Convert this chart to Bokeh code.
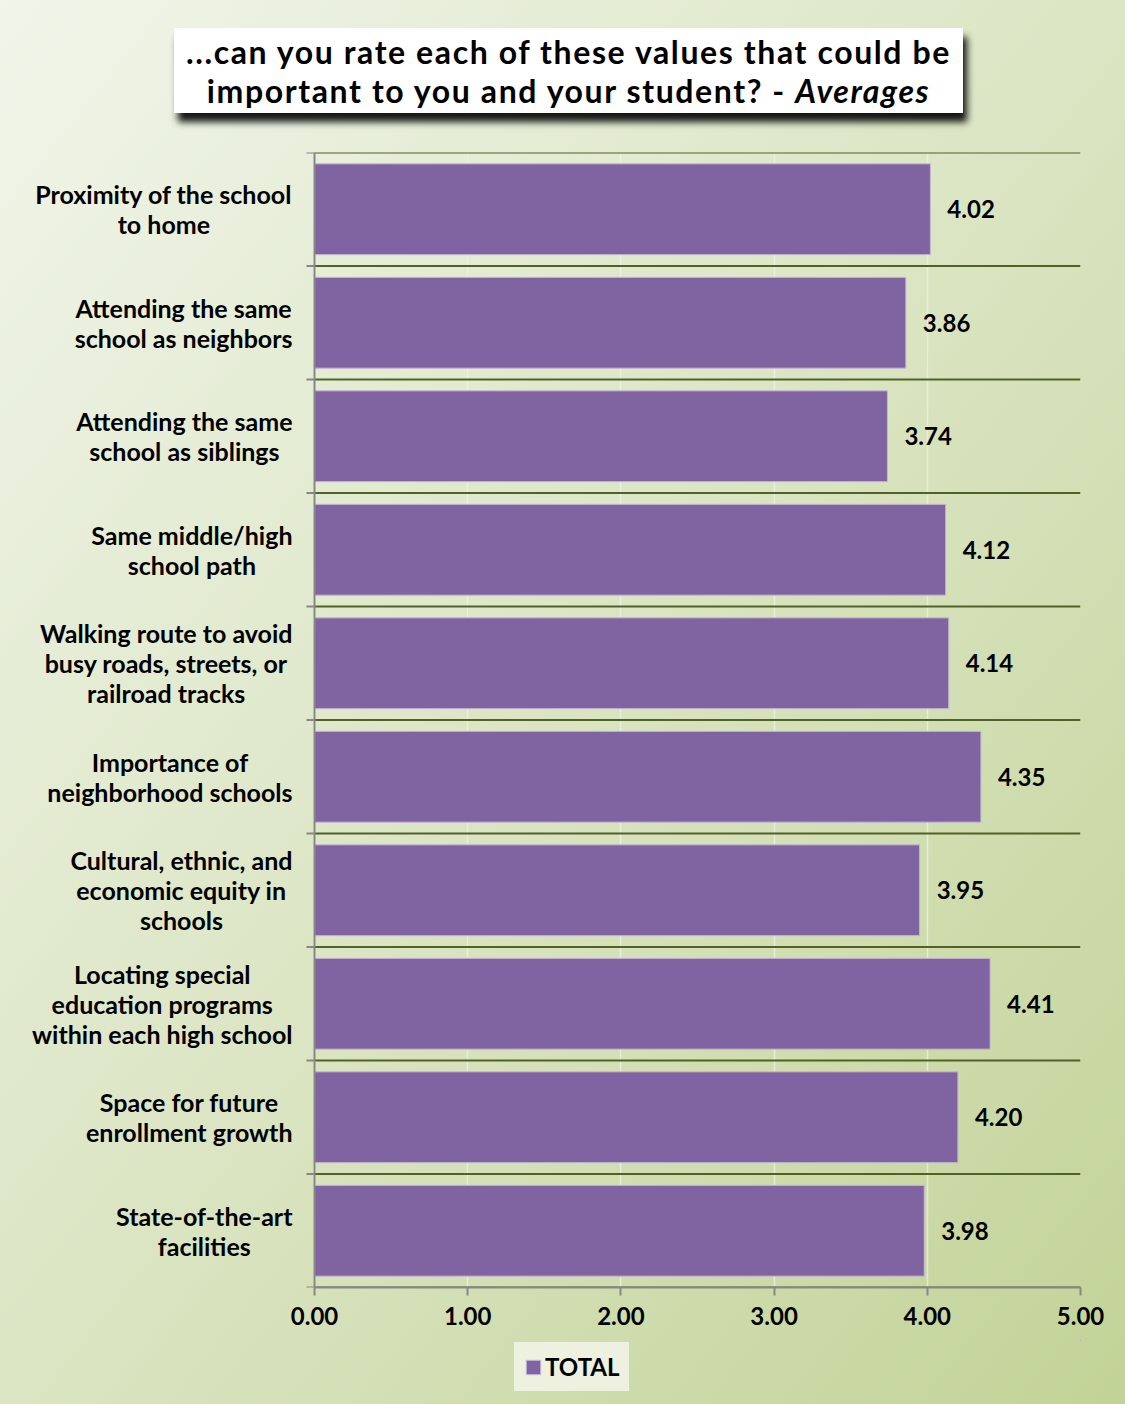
import numpy as np
from bokeh.plotting import figure
from bokeh.models import (Range1d, FixedTicker, NumeralTickFormatter, ColumnDataSource,
                          LabelSet, Div, Legend, LegendItem, Span)
from bokeh.core.properties import value
from bokeh.layouts import column
from bokeh.embed import file_html
from bokeh.resources import INLINE

# ---------------- data ----------------
categories = [
    "Proximity of the school\nto home",
    "Attending the same\nschool as neighbors",
    "Attending the same\nschool as siblings",
    "Same middle/high\nschool path",
    "Walking route to avoid\nbusy roads, streets, or\nrailroad tracks",
    "Importance of\nneighborhood schools",
    "Cultural, ethnic, and\neconomic equity in\nschools",
    "Locating special\neducation programs\nwithin each high school",
    "Space for future\nenrollment growth",
    "State-of-the-art\nfacilities",
]
values = [4.02, 3.86, 3.74, 4.12, 4.14, 4.35, 3.95, 4.41, 4.20, 3.98]
x_ticks = [0, 1, 2, 3, 4, 5]
series_name = "TOTAL"
title_line1 = "...can you rate each of these values that could be"
title_line2 = "important to you and your student? - "
title_italic = "Averages"

FONT = "Lato"
BAR = "#8064A2"
AXIS = "#878787"
GRID = "#4F6228"
LEG_BG = "#eef1e0"
W, H = 1125, 1404
TITLE_H = 140
MAIN_H = 1200
LEG_H = H - TITLE_H - MAIN_H

# layout (pixels)
FRAME_LEFT, ZERO_PX, RIGHT_PX = 8, 314, 1080
xmax = x_ticks[-1]
px_per_unit = (RIGHT_PX - ZERO_PX) / xmax
x_start = -(ZERO_PX - FRAME_LEFT) / px_per_unit
tick_len = 8 / px_per_unit

n = len(categories)
pos = np.arange(n) + 0.5
bounds = np.arange(n + 1)

src = ColumnDataSource(dict(pos=pos, value=values, cat=categories,
                            label=[f"{v:.2f}" for v in values]))

p = figure(width=W, height=MAIN_H, x_range=Range1d(x_start, xmax),
           y_range=Range1d(n, 0), output_backend="svg", toolbar_location=None,
           min_border_left=FRAME_LEFT, min_border_right=W - RIGHT_PX,
           min_border_top=12, min_border_bottom=53)
p.background_fill_color = None
p.border_fill_color = None
p.outline_line_color = None
p.yaxis.visible = False
p.ygrid.visible = False

# x axis
p.xaxis.ticker = FixedTicker(ticks=x_ticks)
p.xaxis.bounds = (x_ticks[0], xmax)
p.xaxis.formatter = NumeralTickFormatter(format="0.00")
p.xaxis.axis_line_color = AXIS
p.xaxis.axis_line_width = 2
p.xaxis.major_tick_line_color = AXIS
p.xaxis.major_tick_line_width = 2
p.xaxis.major_tick_out = 8
p.xaxis.major_tick_in = 0
p.xaxis.minor_tick_line_color = None
p.xaxis.major_label_text_font = FONT
p.xaxis.major_label_text_font_style = "bold"
p.xaxis.major_label_text_font_size = "24px"
p.xaxis.major_label_text_color = "#000000"
p.xaxis.major_label_standoff = 11
p.xgrid.grid_line_color = "#eef3e2"
p.xgrid.grid_line_alpha = 0.7
p.xgrid.grid_line_width = 1.5

# category separators (grid) and their ticks, plus the value-axis line
p.segment(x0=0, x1=xmax, y0=bounds, y1=bounds, line_color=GRID, line_width=2)
p.segment(x0=-tick_len, x1=0, y0=bounds, y1=bounds, line_color=AXIS, line_width=2)
p.add_layout(Span(location=0, dimension="height", line_color=AXIS, line_width=2))

bars = p.hbar(y="pos", right="value", height=0.8, source=src, fill_color=BAR,
              line_color="#c4b8d4", line_width=1)

# category labels: right-anchored blocks with centred lines
p.text(x=0, y="pos", text="cat", source=src, x_offset=-22, anchor="center_right",
       text_align="center", text_baseline="middle", text_font=value(FONT),
       text_font_style="bold", text_font_size="25px", text_color="#000000",
       text_line_height=1.0)

# value labels
labels = LabelSet(x="value", y="pos", text="label", source=src, x_offset=17,
                  text_baseline="middle", text_font=value(FONT), text_font_style="bold",
                  text_font_size="24px", text_color="#000000")
p.add_layout(labels)

# legend strip below the chart (same bar series; its bars fall outside this strip's ranges)
pl = figure(width=W, height=LEG_H, x_range=Range1d(-20, -10), y_range=Range1d(-20, -10),
            output_backend="svg", toolbar_location=None, min_border=0)
pl.background_fill_color = None
pl.border_fill_color = None
pl.outline_line_color = None
pl.axis.visible = False
pl.grid.visible = False
leg_bars = pl.hbar(y="pos", right="value", height=0.8, source=src, fill_color=BAR,
                   line_color="#c4b8d4", line_width=1)
lg = Legend(items=[LegendItem(label=series_name, renderers=[leg_bars])],
            location=(506, 13), orientation="horizontal")
lg.background_fill_color = LEG_BG
lg.background_fill_alpha = 1.0
lg.border_line_color = LEG_BG
lg.border_line_width = 1
lg.padding = 9
lg.margin = 0
lg.glyph_width = 18
lg.glyph_height = 18
lg.label_standoff = 3
lg.label_text_font = FONT
lg.label_text_font_style = "bold"
lg.label_text_font_size = "24px"
lg.label_text_color = "#000000"
pl.add_layout(lg)

title_html = (
    '<div style="position:relative; left:174px; top:28px; width:789px; height:85px; '
    'background:#ffffff; box-shadow:4px 9px 7px rgba(0,0,0,0.9); box-sizing:border-box; '
    'padding-top:4px; text-align:center; font-family:Lato; font-weight:bold; '
    'font-size:32px; letter-spacing:1.6px; line-height:39px; color:#000000; '
    'white-space:nowrap;">'
    f'{title_line1}<br>{title_line2}<i>{title_italic}</i></div>'
)
title = Div(text=title_html, width=W, height=TITLE_H, margin=0)

layout = column(title, p, pl, width=W, height=H, margin=0, spacing=0,
                styles={"background": "linear-gradient(to bottom right, #f1f5ea 0%, #dbe5c3 50%, #c2d397 100%)"})

open("out.html", "w").write(file_html(layout, INLINE))
